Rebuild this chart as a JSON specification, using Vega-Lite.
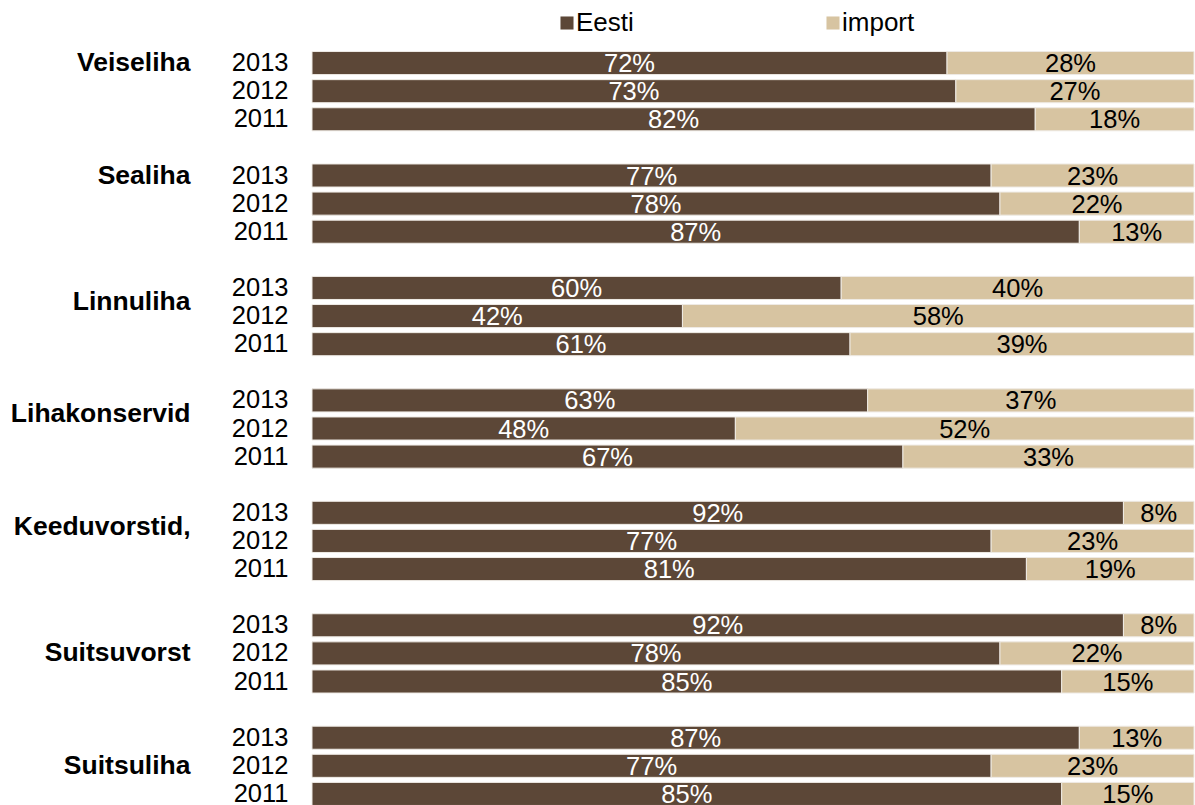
{
  "$schema": "https://vega.github.io/schema/vega-lite/v6.json",
  "autosize": "none",
  "width": 882,
  "height": 759,
  "padding": {"left": 312, "top": 49, "right": 1, "bottom": 0},
  "background": "#ffffff",
  "config": {
    "view": {"stroke": null},
    "font": "Liberation Sans",
    "axis": {"domain": false, "ticks": false, "grid": false, "title": null}
  },
  "data": {
    "values": [
      {"cat": "Veiseliha", "year": "2013", "source": "Eesti", "value": 72},
      {"cat": "Veiseliha", "year": "2013", "source": "import", "value": 28},
      {"cat": "Veiseliha", "year": "2012", "source": "Eesti", "value": 73},
      {"cat": "Veiseliha", "year": "2012", "source": "import", "value": 27},
      {"cat": "Veiseliha", "year": "2011", "source": "Eesti", "value": 82},
      {"cat": "Veiseliha", "year": "2011", "source": "import", "value": 18},
      {"cat": "Sealiha", "year": "2013", "source": "Eesti", "value": 77},
      {"cat": "Sealiha", "year": "2013", "source": "import", "value": 23},
      {"cat": "Sealiha", "year": "2012", "source": "Eesti", "value": 78},
      {"cat": "Sealiha", "year": "2012", "source": "import", "value": 22},
      {"cat": "Sealiha", "year": "2011", "source": "Eesti", "value": 87},
      {"cat": "Sealiha", "year": "2011", "source": "import", "value": 13},
      {"cat": "Linnuliha", "year": "2013", "source": "Eesti", "value": 60},
      {"cat": "Linnuliha", "year": "2013", "source": "import", "value": 40},
      {"cat": "Linnuliha", "year": "2012", "source": "Eesti", "value": 42},
      {"cat": "Linnuliha", "year": "2012", "source": "import", "value": 58},
      {"cat": "Linnuliha", "year": "2011", "source": "Eesti", "value": 61},
      {"cat": "Linnuliha", "year": "2011", "source": "import", "value": 39},
      {"cat": "Lihakonservid", "year": "2013", "source": "Eesti", "value": 63},
      {"cat": "Lihakonservid", "year": "2013", "source": "import", "value": 37},
      {"cat": "Lihakonservid", "year": "2012", "source": "Eesti", "value": 48},
      {"cat": "Lihakonservid", "year": "2012", "source": "import", "value": 52},
      {"cat": "Lihakonservid", "year": "2011", "source": "Eesti", "value": 67},
      {"cat": "Lihakonservid", "year": "2011", "source": "import", "value": 33},
      {"cat": "Keeduvorstid,", "year": "2013", "source": "Eesti", "value": 92},
      {"cat": "Keeduvorstid,", "year": "2013", "source": "import", "value": 8},
      {"cat": "Keeduvorstid,", "year": "2012", "source": "Eesti", "value": 77},
      {"cat": "Keeduvorstid,", "year": "2012", "source": "import", "value": 23},
      {"cat": "Keeduvorstid,", "year": "2011", "source": "Eesti", "value": 81},
      {"cat": "Keeduvorstid,", "year": "2011", "source": "import", "value": 19},
      {"cat": "Suitsuvorst", "year": "2013", "source": "Eesti", "value": 92},
      {"cat": "Suitsuvorst", "year": "2013", "source": "import", "value": 8},
      {"cat": "Suitsuvorst", "year": "2012", "source": "Eesti", "value": 78},
      {"cat": "Suitsuvorst", "year": "2012", "source": "import", "value": 22},
      {"cat": "Suitsuvorst", "year": "2011", "source": "Eesti", "value": 85},
      {"cat": "Suitsuvorst", "year": "2011", "source": "import", "value": 15},
      {"cat": "Suitsuliha", "year": "2013", "source": "Eesti", "value": 87},
      {"cat": "Suitsuliha", "year": "2013", "source": "import", "value": 13},
      {"cat": "Suitsuliha", "year": "2012", "source": "Eesti", "value": 77},
      {"cat": "Suitsuliha", "year": "2012", "source": "import", "value": 23},
      {"cat": "Suitsuliha", "year": "2011", "source": "Eesti", "value": 85},
      {"cat": "Suitsuliha", "year": "2011", "source": "import", "value": 15}
    ]
  },
  "transform": [
    {"calculate": "datum.cat + '|' + datum.year", "as": "key"},
    {"calculate": "datum.value + '%'", "as": "label"}
  ],
  "resolve": {"axis": {"y": "independent"}},
  "layer": [
    {
      "mark": {"type": "bar", "stroke": "#eeeae4", "strokeWidth": 1},
      "encoding": {
        "y": {
          "field": "key",
          "type": "nominal",
          "sort": null,
          "scale": {
            "domain": [
              "Veiseliha|2013", "Veiseliha|2012", "Veiseliha|2011", "gap1",
              "Sealiha|2013", "Sealiha|2012", "Sealiha|2011", "gap2",
              "Linnuliha|2013", "Linnuliha|2012", "Linnuliha|2011", "gap3",
              "Lihakonservid|2013", "Lihakonservid|2012", "Lihakonservid|2011", "gap4",
              "Keeduvorstid,|2013", "Keeduvorstid,|2012", "Keeduvorstid,|2011", "gap5",
              "Suitsuvorst|2013", "Suitsuvorst|2012", "Suitsuvorst|2011", "gap6",
              "Suitsuliha|2013", "Suitsuliha|2012", "Suitsuliha|2011"
            ],
            "paddingInner": 0.18,
            "paddingOuter": 0.09
          },
          "axis": {
            "orient": "left",
            "labelExpr": "indexof(datum.value, '|') > 0 ? split(datum.value, '|')[1] : ''",
            "labelFontSize": 25.5,
            "labelColor": "#000000",
            "labelPadding": 24,
            "labelAlign": "right",
            "labelBaseline": "middle"
          }
        },
        "x": {
          "field": "value",
          "type": "quantitative",
          "stack": "zero",
          "scale": {"domain": [0, 100], "nice": false},
          "axis": null
        },
        "color": {
          "field": "source",
          "type": "nominal",
          "scale": {"domain": ["Eesti", "import"], "range": ["#5c4737", "#d7c4a1"]},
          "legend": {
            "orient": "none",
            "legendX": 242,
            "legendY": -39,
            "direction": "horizontal",
            "title": null,
            "symbolType": "square",
            "symbolSize": 170,
            "symbolStrokeWidth": 0,
            "labelFontSize": 26,
            "labelColor": "#000000",
            "labelOffset": -4,
            "columnPadding": 186
          }
        }
      }
    },
    {
      "transform": [
        {"stack": "value", "groupby": ["key"], "sort": [{"field": "source"}], "as": ["v0", "v1"]},
        {"calculate": "(datum.v0 + datum.v1) / 2", "as": "mid"}
      ],
      "mark": {"type": "text", "fontSize": 25.5, "baseline": "middle", "align": "center", "dy": 1},
      "encoding": {
        "y": {
          "field": "key",
          "type": "nominal",
          "sort": null,
          "axis": {
            "orient": "left",
            "labelExpr": "indexof(datum.value, '|') < 0 ? '' : ((split(datum.value, '|')[1] == '2013' && indexof(['Suitsuvorst', 'Suitsuliha'], split(datum.value, '|')[0]) < 0) || (split(datum.value, '|')[1] == '2012' && indexof(['Suitsuvorst', 'Suitsuliha'], split(datum.value, '|')[0]) >= 0) ? split(datum.value, '|')[0] : '')",
            "labelFontSize": 26.5,
            "labelFontWeight": "bold",
            "labelColor": "#000000",
            "labelPadding": 122,
            "labelAlign": "right",
            "labelBaseline": "middle",
            "labelOffset": {
              "condition": {
                "test": "indexof(['Linnuliha|2013', 'Lihakonservid|2013', 'Keeduvorstid,|2013'], datum.value) >= 0",
                "value": 14
              },
              "value": 0
            }
          }
        },
        "x": {"field": "mid", "type": "quantitative"},
        "text": {"field": "label", "type": "nominal"},
        "color": {
          "condition": {"test": "datum.source === 'Eesti'", "value": "#ffffff"},
          "value": "#000000"
        }
      }
    }
  ]
}
